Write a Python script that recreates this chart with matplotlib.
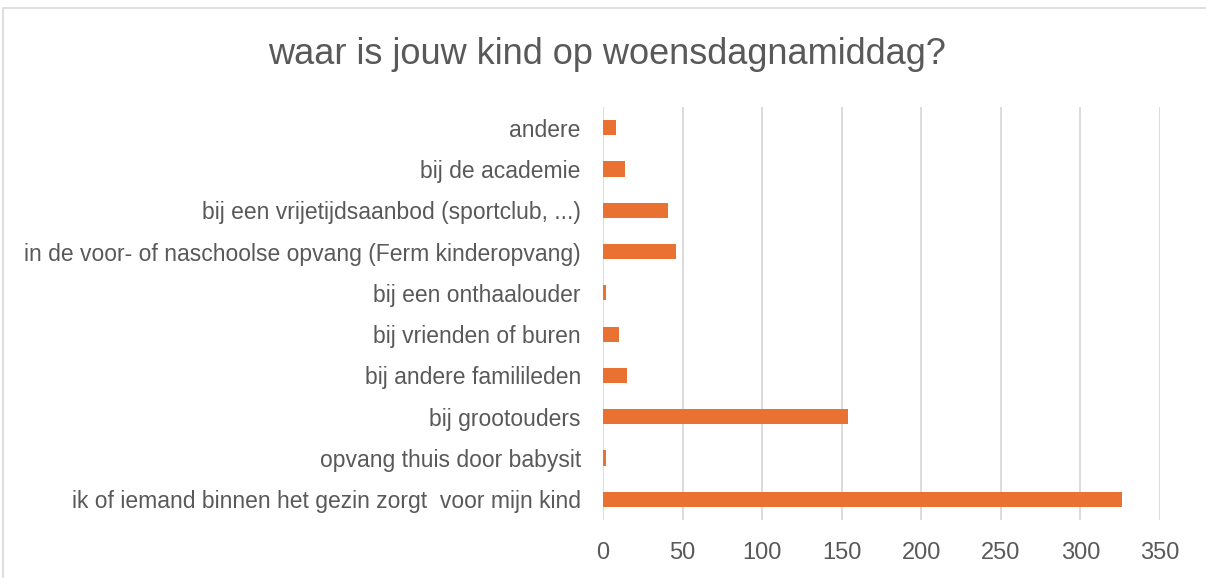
import matplotlib
matplotlib.use("Agg")
import matplotlib.pyplot as plt
from matplotlib.patches import Rectangle

categories = [
    "ik of iemand binnen het gezin zorgt  voor mijn kind",
    "opvang thuis door babysit",
    "bij grootouders",
    "bij andere familileden",
    "bij vrienden of buren",
    "bij een onthaalouder",
    "in de voor- of naschoolse opvang (Ferm kinderopvang)",
    "bij een vrijetijdsaanbod (sportclub, ...)",
    "bij de academie",
    "andere",
]
values = [326, 2, 154, 15, 10, 2, 46, 41, 14, 8]
xticks = [0, 50, 100, 150, 200, 250, 300, 350]
title = "waar is jouw kind op woensdagnamiddag?"

plt.rcParams['font.family'] = ['Liberation Sans', 'DejaVu Sans']

fig = plt.figure(figsize=(12.06, 5.78), dpi=100)
fig.patches.append(Rectangle((3/1206, -0.01), 1.1, 1 - 8/578 + 0.01, transform=fig.transFigure,
                             fill=False, edgecolor='#d9d9d9', linewidth=1.2))
ax = fig.add_axes([603/1206, 1 - 520/578, (1160 - 603)/1206, (520 - 107)/578])

ax.barh(range(len(categories)), values, height=0.37, color='#E97132', zorder=3)
ax.set_ylim(-0.5, len(categories) - 0.5)
ax.set_xlim(0, 350)
ax.set_xticks(xticks)
ax.set_xticklabels([str(t) for t in xticks])
ax.set_yticks(range(len(categories)))
ax.set_yticklabels(categories)
ax.grid(axis='x', color='#d9d9d9', linewidth=1.3, zorder=0)
for s in ax.spines.values():
    s.set_visible(False)
ax.tick_params(axis='both', length=0, colors='#595959')
ax.tick_params(axis='x', pad=16, labelsize=17)
ax.tick_params(axis='y', pad=16, labelsize=16.5)

fig.text(607/1206, 1 - 54/578, title, ha='center', va='center', fontsize=26, color='#595959')

fig.savefig("out.png", dpi=100)
